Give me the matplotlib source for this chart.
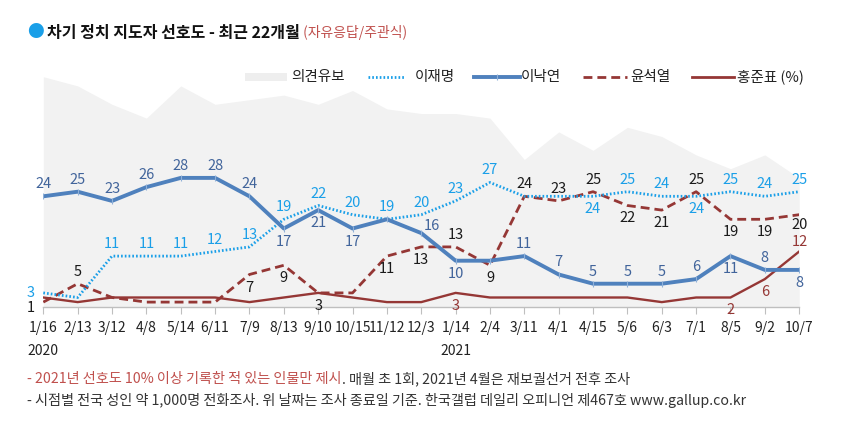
import matplotlib
matplotlib.use("Agg")
import matplotlib.pyplot as plt
from matplotlib.lines import Line2D
from matplotlib.patches import Rectangle

plt.rcParams['font.family'] = ['Noto Sans CJK KR', 'DejaVu Sans']

# ---------------- data ----------------
dates = ['1/16', '2/13', '3/12', '4/8', '5/14', '6/11', '7/9', '8/13', '9/10', '10/15', '11/12',
         '12/3', '1/14', '2/4', '3/11', '4/1', '4/15', '5/6', '6/3', '7/1', '8/5', '9/2', '10/7']
withheld = [50, 48, 44, 41, 48, 44, 45, 46, 44, 47, 43, 42, 42, 41, 32, 38, 34, 39, 37, 33, 30, 33, 28]
lee_jm = [3, 2, 11, 11, 11, 12, 13, 19, 22, 20, 19, 20, 23, 27, 24, 24, 24, 25, 24, 24, 25, 24, 25]
lee_ny = [24, 25, 23, 26, 28, 28, 24, 17, 21, 17, 19, 16, 10, 10, 11, 7, 5, 5, 5, 6, 11, 8, 8]
yoon = [1, 5, 2, 1, 1, 1, 7, 9, 3, 3, 11, 13, 13, 9, 24, 23, 25, 22, 21, 25, 19, 19, 20]
hong = [2, 1, 2, 2, 2, 2, 1, 2, 3, 2, 1, 1, 3, 2, 2, 2, 2, 2, 1, 2, 2, 6, 12]
years = {0: '2020', 12: '2021'}
legend_names = ['의견유보', '이재명', '이낙연', '윤석열', '홍준표 (%)']

# label placement (a=above, b=below, l=left, bl=below-left, r=right, None=no label)
pos_jm = ['l', None] + ['a'] * 12 + [None, None, 'b', 'a', 'a', 'b', 'a', 'a', 'a']
pos_ny = ['a'] * 7 + ['b', 'b', 'b', None, 'r', 'b', None] + ['a'] * 6 + ['b', 'a', 'b']
pos_yoon = ['bl', 'a', None, None, None, None, 'b', 'b', 'b', None, 'b', 'b', 'a', 'b',
            'a', 'a', 'a', 'b', 'b', 'a', 'b', 'b', 'b2']
pos_hong = [None] * 12 + ['b'] + [None] * 7 + ['b', 'b', 'a2']

C_JM = '#1a9fe8'
C_NY = '#4f81bd'
C_NY_LBL = '#41649b'
C_RED = '#953735'
C_GRAY = '#f2f2f2'

W, H = 854, 434
fig = plt.figure(figsize=(W / 100, H / 100), dpi=100)


def fx(px):
    return px / W


def fy(py):
    return (H - py) / H


x0, x1 = 43.3, 799.2
ybase, ytop = 306.7, 67.5
ax = fig.add_axes([fx(x0), fy(ybase), fx(x1) - fx(x0), fy(ytop) - fy(ybase)])
ax.set_xlim(0, len(dates) - 1)
ax.set_ylim(0, (ybase - ytop) / 4.6)
ax.patch.set_alpha(0)

x = list(range(len(dates)))
ax.fill_between(x, 0, withheld, color=C_GRAY, lw=0, zorder=1)

ax.plot(x, hong, color=C_RED, lw=1.7, zorder=3, solid_joinstyle='miter')
ax.plot(x, yoon, color=C_RED, lw=2.0, ls=(0, (3.2, 1.8)), zorder=3)
ax.plot(x, lee_jm, color=C_JM, lw=2.0, ls=(0, (0.6, 0.75)), zorder=4)
ax.plot(x, lee_ny, color=C_NY, lw=2.8, zorder=5, marker='|', markersize=4,
        markeredgecolor='#8fb0d8', markeredgewidth=0.8)

for s in ['top', 'left', 'right']:
    ax.spines[s].set_visible(False)
ax.spines['bottom'].set_color('#bfbfbf')
ax.spines['bottom'].set_linewidth(1.0)
ax.set_yticks([])
ax.set_xticks(x)
ax.set_xticklabels(dates, fontsize=10, color='#222222')
ax.tick_params(axis='x', direction='out', length=5, color='#bfbfbf', pad=5)

for i, yr in years.items():
    ax.annotate(yr, xy=(i, 0), xycoords='data', xytext=(0, -44), textcoords='offset pixels',
                ha='center', va='center', fontsize=10, color='#222222', annotation_clip=False)

offsets = {'a': (0, 12), 'b': (0, -13), 'l': (-13, 0), 'bl': (-12, -6), 'r': (11, 7),
           'a2': (1, 10), 'b2': (0, -10)}


def put_labels(vals, poss, color):
    for i, (v, p) in enumerate(zip(vals, poss)):
        if p is None:
            continue
        dx, dy = offsets[p]
        ax.annotate(str(v), xy=(i, v), xytext=(dx, dy), textcoords='offset pixels',
                    ha='center', va='center', fontsize=10.5, color=color,
                    annotation_clip=False, zorder=6)


put_labels(lee_jm, pos_jm, C_JM)
put_labels(lee_ny, pos_ny, C_NY_LBL)
put_labels(yoon, pos_yoon, '#1a1a1a')
put_labels(hong, pos_hong, C_RED)

# ---------------- legend ----------------
ly = 77
LF = 10.5
fig.add_artist(Rectangle((fx(245), fy(ly + 4)), fx(287) - fx(245), fy(ly - 4) - fy(ly + 4),
                         transform=fig.transFigure, color='#eeeeee', lw=0))
fig.text(fx(291), fy(ly), legend_names[0], fontsize=LF, ha='left', va='center', color='#222222')
fig.add_artist(Line2D([fx(368), fx(404)], [fy(ly), fy(ly)], transform=fig.transFigure,
                      color=C_JM, lw=2.0, ls=(0, (0.6, 0.75))))
fig.text(fx(415), fy(ly), legend_names[1], fontsize=LF, ha='left', va='center', color='#222222')
fig.add_artist(Line2D([fx(474), fx(520)], [fy(ly), fy(ly)], transform=fig.transFigure,
                      color=C_NY, lw=2.8))
fig.add_artist(Line2D([fx(497)], [fy(ly)], transform=fig.transFigure, marker='|', markersize=4,
                      markeredgecolor='#8fb0d8', markeredgewidth=0.8, lw=0))
fig.text(fx(521), fy(ly), legend_names[2], fontsize=LF, ha='left', va='center', color='#222222')
fig.add_artist(Line2D([fx(583), fx(627)], [fy(ly), fy(ly)], transform=fig.transFigure,
                      color=C_RED, lw=2.0, ls=(0, (3.2, 1.8))))
fig.text(fx(630), fy(ly), legend_names[3], fontsize=LF, ha='left', va='center', color='#222222')
fig.add_artist(Line2D([fx(692), fx(734)], [fy(ly), fy(ly)], transform=fig.transFigure,
                      color=C_RED, lw=2.0))
fig.text(fx(737), fy(ly), legend_names[4], fontsize=LF, ha='left', va='center', color='#222222')

# ---------------- title ----------------
fig.text(fx(27), fy(33), '●', fontsize=12, color='#1a9fe8', ha='left', va='center')
t = fig.text(fx(47), fy(33), '차기 정치 지도자 선호도 - 최근 22개월', fontsize=11.5, fontweight='bold',
             ha='left', va='center', color='#111111')
plt.annotate(' (자유응답/주관식)', xy=(1, 0.5), xycoords=t, ha='left', va='center',
             fontsize=10, color='#c0504d')

# ---------------- footnotes ----------------
FF = 10.2
f1 = fig.text(fx(27), fy(379), '- 2021년 선호도 10% 이상 기록한 적 있는 인물만 제시', fontsize=FF,
              ha='left', va='center', color='#c0504d')
plt.annotate('. 매월 초 1회, 2021년 4월은 재보궐선거 전후 조사', xy=(1, 0.5), xycoords=f1,
             ha='left', va='center', fontsize=FF, color='#333333')
fig.text(fx(27), fy(400), '- 시점별 전국 성인 약 1,000명 전화조사. 위 날짜는 조사 종료일 기준. '
         '한국갤럽 데일리 오피니언 제467호 www.gallup.co.kr', fontsize=FF,
         ha='left', va='center', color='#333333')

fig.savefig('out.png', dpi=100)
